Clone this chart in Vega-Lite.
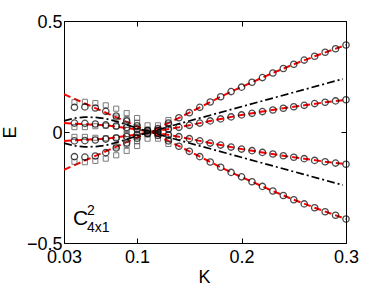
{
  "$schema": "https://vega.github.io/schema/vega-lite/v6.json",
  "width": 282,
  "height": 222,
  "autosize": "none",
  "padding": {"left": 64, "top": 21, "right": 36, "bottom": 43},
  "background": "white",
  "config": {
    "view": {"stroke": "black", "strokeWidth": 1},
    "font": "Liberation Sans",
    "axis": {
      "grid": false,
      "domain": false,
      "labelFont": "Liberation Sans",
      "titleFont": "Liberation Sans",
      "labelFontSize": 18,
      "titleFontSize": 18,
      "titleFontWeight": "normal",
      "labelColor": "black",
      "titleColor": "black",
      "tickColor": "black",
      "tickSize": -5,
      "tickWidth": 1,
      "labelFlush": false,
      "labelOverlap": false
    }
  },
  "datasets": {
    "red": [
      {"b": "uo", "K": 0.03, "E": 0.170}, {"b": "uo", "K": 0.112, "E": 0.0}, {"b": "uo", "K": 0.13, "E": 0.040}, {"b": "uo", "K": 0.15, "E": 0.087}, {"b": "uo", "K": 0.17, "E": 0.135}, {"b": "uo", "K": 0.19, "E": 0.182}, {"b": "uo", "K": 0.21, "E": 0.224}, {"b": "uo", "K": 0.23, "E": 0.266}, {"b": "uo", "K": 0.25, "E": 0.305}, {"b": "uo", "K": 0.27, "E": 0.341}, {"b": "uo", "K": 0.30, "E": 0.392},
      {"b": "ui", "K": 0.03, "E": 0.040}, {"b": "ui", "K": 0.07, "E": 0.030}, {"b": "ui", "K": 0.10, "E": 0.012}, {"b": "ui", "K": 0.112, "E": 0.0}, {"b": "ui", "K": 0.14, "E": 0.021}, {"b": "ui", "K": 0.16, "E": 0.040}, {"b": "ui", "K": 0.18, "E": 0.059}, {"b": "ui", "K": 0.20, "E": 0.077}, {"b": "ui", "K": 0.22, "E": 0.092}, {"b": "ui", "K": 0.24, "E": 0.107}, {"b": "ui", "K": 0.26, "E": 0.120}, {"b": "ui", "K": 0.28, "E": 0.134}, {"b": "ui", "K": 0.30, "E": 0.145},
      {"b": "li", "K": 0.03, "E": -0.040}, {"b": "li", "K": 0.07, "E": -0.030}, {"b": "li", "K": 0.10, "E": -0.012}, {"b": "li", "K": 0.112, "E": 0.0}, {"b": "li", "K": 0.14, "E": -0.021}, {"b": "li", "K": 0.16, "E": -0.040}, {"b": "li", "K": 0.18, "E": -0.059}, {"b": "li", "K": 0.20, "E": -0.077}, {"b": "li", "K": 0.22, "E": -0.092}, {"b": "li", "K": 0.24, "E": -0.107}, {"b": "li", "K": 0.26, "E": -0.120}, {"b": "li", "K": 0.28, "E": -0.134}, {"b": "li", "K": 0.30, "E": -0.145},
      {"b": "lo", "K": 0.03, "E": -0.170}, {"b": "lo", "K": 0.112, "E": 0.0}, {"b": "lo", "K": 0.13, "E": -0.040}, {"b": "lo", "K": 0.15, "E": -0.087}, {"b": "lo", "K": 0.17, "E": -0.135}, {"b": "lo", "K": 0.19, "E": -0.182}, {"b": "lo", "K": 0.21, "E": -0.224}, {"b": "lo", "K": 0.23, "E": -0.266}, {"b": "lo", "K": 0.25, "E": -0.305}, {"b": "lo", "K": 0.27, "E": -0.341}, {"b": "lo", "K": 0.30, "E": -0.392}
    ],
    "dashdot": [
      {"b": "u", "K": 0.03, "E": 0.050}, {"b": "u", "K": 0.04, "E": 0.062}, {"b": "u", "K": 0.05, "E": 0.067}, {"b": "u", "K": 0.06, "E": 0.066}, {"b": "u", "K": 0.07, "E": 0.060}, {"b": "u", "K": 0.08, "E": 0.048}, {"b": "u", "K": 0.09, "E": 0.033}, {"b": "u", "K": 0.10, "E": 0.017}, {"b": "u", "K": 0.112, "E": 0.0}, {"b": "u", "K": 0.14, "E": 0.037}, {"b": "u", "K": 0.297, "E": 0.239},
      {"b": "l", "K": 0.03, "E": -0.050}, {"b": "l", "K": 0.04, "E": -0.062}, {"b": "l", "K": 0.05, "E": -0.067}, {"b": "l", "K": 0.06, "E": -0.066}, {"b": "l", "K": 0.07, "E": -0.060}, {"b": "l", "K": 0.08, "E": -0.048}, {"b": "l", "K": 0.09, "E": -0.033}, {"b": "l", "K": 0.10, "E": -0.017}, {"b": "l", "K": 0.112, "E": 0.0}, {"b": "l", "K": 0.14, "E": -0.037}, {"b": "l", "K": 0.297, "E": -0.239}
    ],
    "circles": [
      {"K": 0.04, "uo": 0.111, "ui": 0.040, "li": -0.040, "lo": -0.111},
      {"K": 0.05, "uo": 0.113, "ui": 0.039, "li": -0.039, "lo": -0.113},
      {"K": 0.06, "uo": 0.108, "ui": 0.036, "li": -0.036, "lo": -0.108},
      {"K": 0.07, "uo": 0.093, "ui": 0.032, "li": -0.032, "lo": -0.093},
      {"K": 0.08, "uo": 0.072, "ui": 0.027, "li": -0.027, "lo": -0.072},
      {"K": 0.09, "uo": 0.050, "ui": 0.020, "li": -0.020, "lo": -0.050},
      {"K": 0.10, "uo": 0.028, "ui": 0.012, "li": -0.012, "lo": -0.028},
      {"K": 0.11, "uo": 0.008, "ui": 0.004, "li": -0.004, "lo": -0.008},
      {"K": 0.12, "uo": 0.016, "ui": 0.006, "li": -0.006, "lo": -0.016},
      {"K": 0.13, "uo": 0.040, "ui": 0.014, "li": -0.014, "lo": -0.040},
      {"K": 0.14, "uo": 0.064, "ui": 0.021, "li": -0.021, "lo": -0.064},
      {"K": 0.15, "uo": 0.087, "ui": 0.030, "li": -0.030, "lo": -0.087},
      {"K": 0.16, "uo": 0.111, "ui": 0.040, "li": -0.040, "lo": -0.111},
      {"K": 0.17, "uo": 0.135, "ui": 0.050, "li": -0.050, "lo": -0.135},
      {"K": 0.18, "uo": 0.159, "ui": 0.059, "li": -0.059, "lo": -0.159},
      {"K": 0.19, "uo": 0.182, "ui": 0.068, "li": -0.068, "lo": -0.182},
      {"K": 0.20, "uo": 0.202, "ui": 0.077, "li": -0.077, "lo": -0.202},
      {"K": 0.21, "uo": 0.224, "ui": 0.084, "li": -0.084, "lo": -0.224},
      {"K": 0.22, "uo": 0.245, "ui": 0.092, "li": -0.092, "lo": -0.245},
      {"K": 0.23, "uo": 0.266, "ui": 0.099, "li": -0.099, "lo": -0.266},
      {"K": 0.24, "uo": 0.286, "ui": 0.107, "li": -0.107, "lo": -0.286},
      {"K": 0.25, "uo": 0.305, "ui": 0.114, "li": -0.114, "lo": -0.305},
      {"K": 0.26, "uo": 0.324, "ui": 0.120, "li": -0.120, "lo": -0.324},
      {"K": 0.27, "uo": 0.341, "ui": 0.128, "li": -0.128, "lo": -0.341},
      {"K": 0.28, "uo": 0.359, "ui": 0.134, "li": -0.134, "lo": -0.359},
      {"K": 0.29, "uo": 0.375, "ui": 0.140, "li": -0.140, "lo": -0.375},
      {"K": 0.30, "uo": 0.392, "ui": 0.145, "li": -0.145, "lo": -0.392}
    ],
    "squares": [
      {"K": 0.04, "E": 0.134}, {"K": 0.04, "E": 0.022}, {"K": 0.04, "E": -0.022}, {"K": 0.04, "E": -0.134},
      {"K": 0.05, "E": 0.136}, {"K": 0.05, "E": 0.022}, {"K": 0.05, "E": -0.022}, {"K": 0.05, "E": -0.136},
      {"K": 0.06, "E": 0.130}, {"K": 0.06, "E": 0.026}, {"K": 0.06, "E": -0.026}, {"K": 0.06, "E": -0.130},
      {"K": 0.07, "E": 0.120}, {"K": 0.07, "E": 0.028}, {"K": 0.07, "E": -0.028}, {"K": 0.07, "E": -0.120},
      {"K": 0.08, "E": 0.105}, {"K": 0.08, "E": 0.065}, {"K": 0.08, "E": 0.025}, {"K": 0.08, "E": -0.025}, {"K": 0.08, "E": -0.065}, {"K": 0.08, "E": -0.105},
      {"K": 0.09, "E": 0.085}, {"K": 0.09, "E": 0.058}, {"K": 0.09, "E": 0.032}, {"K": 0.09, "E": 0.010}, {"K": 0.09, "E": -0.010}, {"K": 0.09, "E": -0.032}, {"K": 0.09, "E": -0.058}, {"K": 0.09, "E": -0.085},
      {"K": 0.10, "E": 0.063}, {"K": 0.10, "E": 0.042}, {"K": 0.10, "E": 0.021}, {"K": 0.10, "E": 0.0}, {"K": 0.10, "E": -0.021}, {"K": 0.10, "E": -0.042}, {"K": 0.10, "E": -0.063},
      {"K": 0.11, "E": 0.030}, {"K": 0.11, "E": 0.010}, {"K": 0.11, "E": -0.010}, {"K": 0.11, "E": -0.030},
      {"K": 0.12, "E": 0.030}, {"K": 0.12, "E": 0.010}, {"K": 0.12, "E": -0.010}, {"K": 0.12, "E": -0.030},
      {"K": 0.13, "E": 0.054}, {"K": 0.13, "E": 0.033}, {"K": 0.13, "E": 0.012}, {"K": 0.13, "E": -0.012}, {"K": 0.13, "E": -0.033}, {"K": 0.13, "E": -0.054}
    ],
    "labels": [
      {"t": "C", "K": 0.0386, "E": -0.419, "s": "big"},
      {"t": "2", "K": 0.052, "E": -0.374, "s": "small"},
      {"t": "4x1", "K": 0.052, "E": -0.452, "s": "small"}
    ]
  },
  "layer": [
    {
      "data": {"name": "red"},
      "mark": {"type": "line", "color": "#ff0000", "strokeWidth": 2, "strokeDash": [7, 4], "clip": true},
      "encoding": {
        "x": {"field": "K", "type": "quantitative", "scale": {"domain": [0.03, 0.3], "nice": false, "zero": false},
              "axis": {"orient": "bottom", "values": [0.03, 0.1, 0.2, 0.3], "labelExpr": "'' + datum.value", "labelAlign": "center", "labelPadding": 10, "title": "K", "titleX": 140, "titleY": 39, "titleBaseline": "alphabetic"}},
        "y": {"field": "E", "type": "quantitative", "scale": {"domain": [-0.5, 0.5], "nice": false, "zero": false},
              "axis": {"orient": "left", "values": [-0.5, 0, 0.5], "labelExpr": "datum.value < 0 ? '\u2212' + abs(datum.value) : '' + datum.value", "labelPadding": 7, "labelOffset": 1, "title": "E", "titleX": -49, "titleY": 111, "titleAngle": -90, "titleBaseline": "alphabetic", "titleAlign": "center"}},
        "detail": {"field": "b"}
      }
    },
    {
      "data": {"name": "dashdot"},
      "mark": {"type": "line", "color": "black", "strokeWidth": 1.7, "strokeDash": [8, 3, 2, 3]},
      "encoding": {
        "x": {"field": "K", "type": "quantitative", "axis": {"orient": "top", "values": [0.03, 0.1, 0.2, 0.3], "labels": false, "title": null}},
        "y": {"field": "E", "type": "quantitative", "axis": {"orient": "right", "values": [-0.5, 0, 0.5], "labels": false, "title": null}},
        "detail": {"field": "b"}
      }
    },
    {
      "data": {"name": "squares"},
      "mark": {"type": "point", "shape": "square", "size": 26, "filled": false, "stroke": "#444444", "strokeWidth": 1},
      "encoding": {
        "x": {"field": "K", "type": "quantitative", "axis": null},
        "y": {"field": "E", "type": "quantitative", "axis": null}
      }
    },
    {
      "data": {"name": "circles"},
      "transform": [{"fold": ["uo", "ui", "li", "lo"], "as": ["b", "E"]}],
      "mark": {"type": "point", "shape": "circle", "size": 40, "filled": false, "stroke": "black", "strokeWidth": 1.3},
      "encoding": {
        "x": {"field": "K", "type": "quantitative", "axis": null},
        "y": {"field": "E", "type": "quantitative", "axis": null}
      }
    },
    {
      "data": {"name": "labels"},
      "mark": {"type": "text", "align": "left", "baseline": "alphabetic", "font": "Liberation Sans", "color": "black"},
      "encoding": {
        "x": {"field": "K", "type": "quantitative", "axis": null},
        "y": {"field": "E", "type": "quantitative", "axis": null},
        "text": {"field": "t"},
        "size": {"field": "s", "type": "nominal", "scale": {"domain": ["big", "small"], "range": [21, 14]}, "legend": null}
      }
    }
  ],
  "resolve": {"axis": {"x": "independent", "y": "independent"}}
}
